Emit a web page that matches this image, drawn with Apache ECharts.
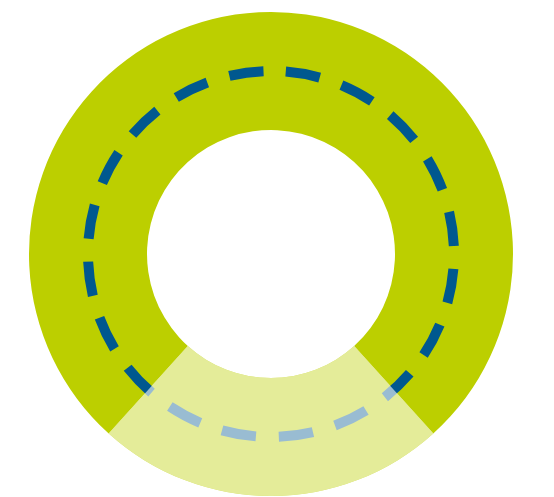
<!DOCTYPE html>
<html>
<head>
<meta charset="utf-8">
<script src="https://cdn.jsdelivr.net/npm/echarts@6/dist/echarts.min.js"></script>
<style>
  html, body { margin: 0; padding: 0; background: #fff; }
  #chart { width: 554px; height: 497px; }
</style>
</head>
<body>
<div id="chart"></div>
<script>
// slice shares (highlighted bottom part first)
const sliceNames = ['Rest', 'Main'];
const sliceValues = [23.4, 76.6];

const green = '#bccf00';
const blue = '#00588f';

const total = sliceValues.reduce((a, b) => a + b, 0);
// center the first slice on the bottom of the ring
const restAngle = 360 * sliceValues[0] / total;
const startAngle = 90 - (180 - restAngle / 2);

const chart = echarts.init(document.getElementById('chart'));

const common = {
  type: 'pie',
  center: [271, 254],
  silent: true,
  label: { show: false },
  labelLine: { show: false },
  emphasis: { disabled: true },
  animation: false
};

chart.setOption({
  animation: false,
  series: [
    {
      ...common,
      name: 'ring',
      radius: [124, 242],
      startAngle: startAngle,
      data: sliceNames.map((n, i) => ({
        name: n,
        value: sliceValues[i],
        itemStyle: { color: green, borderWidth: 0 }
      }))
    },
    {
      // dashed guide circle
      ...common,
      name: 'dash',
      radius: [0, 183],
      startAngle: 90,
      data: [{
        name: 'total',
        value: total,
        itemStyle: {
          color: 'rgba(0,0,0,0)',
          borderColor: blue,
          borderWidth: 10,
          borderType: [34.5, 23],
          borderDashOffset: 42.7
        }
      }]
    },
    {
      // fade overlay on the highlighted slice
      ...common,
      name: 'fade',
      radius: [124, 242],
      startAngle: startAngle,
      data: sliceNames.map((n, i) => ({
        name: n,
        value: sliceValues[i],
        itemStyle: {
          color: i === 0 ? 'rgba(255,255,255,0.6)' : 'rgba(255,255,255,0)',
          borderWidth: 0
        }
      }))
    }
  ]
});
</script>
</body>
</html>
